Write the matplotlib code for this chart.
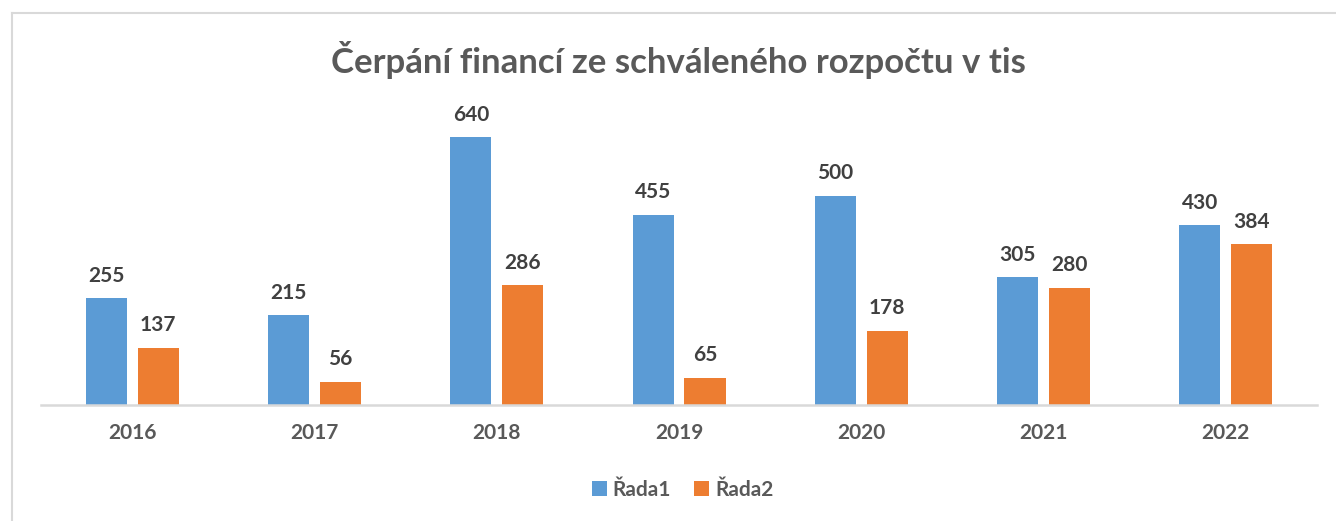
import matplotlib.pyplot as plt
import numpy as np

plt.rcParams['font.family'] = ['Lato', 'DejaVu Sans']

years = ['2016', '2017', '2018', '2019', '2020', '2021', '2022']
rada1 = [255, 215, 640, 455, 500, 305, 430]
rada2 = [137, 56, 286, 65, 178, 280, 384]

blue = '#5b9bd5'
orange = '#ed7d31'

fig = plt.figure(figsize=(13.36, 5.21), dpi=100)
ax = fig.add_axes([0.0307, 0.2226, 0.9551, 0.5624])

x = np.arange(len(years))
w = 0.225
off = 0.1425
b1 = ax.bar(x - off, rada1, w, color=blue, label='Řada1')
b2 = ax.bar(x + off, rada2, w, color=orange, label='Řada2')

for bars in (b1, b2):
    for r in bars:
        ax.annotate(str(int(r.get_height())), (r.get_x() + r.get_width() / 2, r.get_height()),
                    xytext=(0, 9), textcoords='offset points', ha='center', va='bottom',
                    fontsize=15, fontweight='bold', color='#404040')

ax.set_xlim(-0.5, len(years) - 0.5)
ax.set_ylim(0, 700)
ax.set_xticks(x)
ax.set_xticklabels(years, fontsize=15, fontweight='bold', color='#595959')
ax.tick_params(axis='x', length=0, pad=13)
ax.set_yticks([])
for s in ['top', 'right', 'left']:
    ax.spines[s].set_visible(False)
ax.spines['bottom'].set_color('#d9d9d9')
ax.spines['bottom'].set_linewidth(1.8)

fig.text(0.508, 0.885, 'Čerpání financí ze schváleného rozpočtu v tis', ha='center', va='center',
         fontsize=25, fontweight='bold', color='#595959')

leg = fig.legend(handles=[b1, b2], loc='center', bbox_to_anchor=(0.511, 0.06), ncol=2, frameon=False,
                 prop={'size': 15, 'weight': 'bold'}, handlelength=0.7, handleheight=0.7,
                 handletextpad=0.3, columnspacing=1.1)
for t in leg.get_texts():
    t.set_color('#595959')

# chart border (only the left and top edges are inside the crop)
fig.add_artist(plt.Line2D([12 / 1336, 12 / 1336], [0, 1 - 13 / 521], color='#d9d9d9', lw=1.5,
                          transform=fig.transFigure))
fig.add_artist(plt.Line2D([12 / 1336, 1], [1 - 13 / 521, 1 - 13 / 521], color='#d9d9d9', lw=1.5,
                          transform=fig.transFigure))

fig.savefig('out.png', dpi=100)
